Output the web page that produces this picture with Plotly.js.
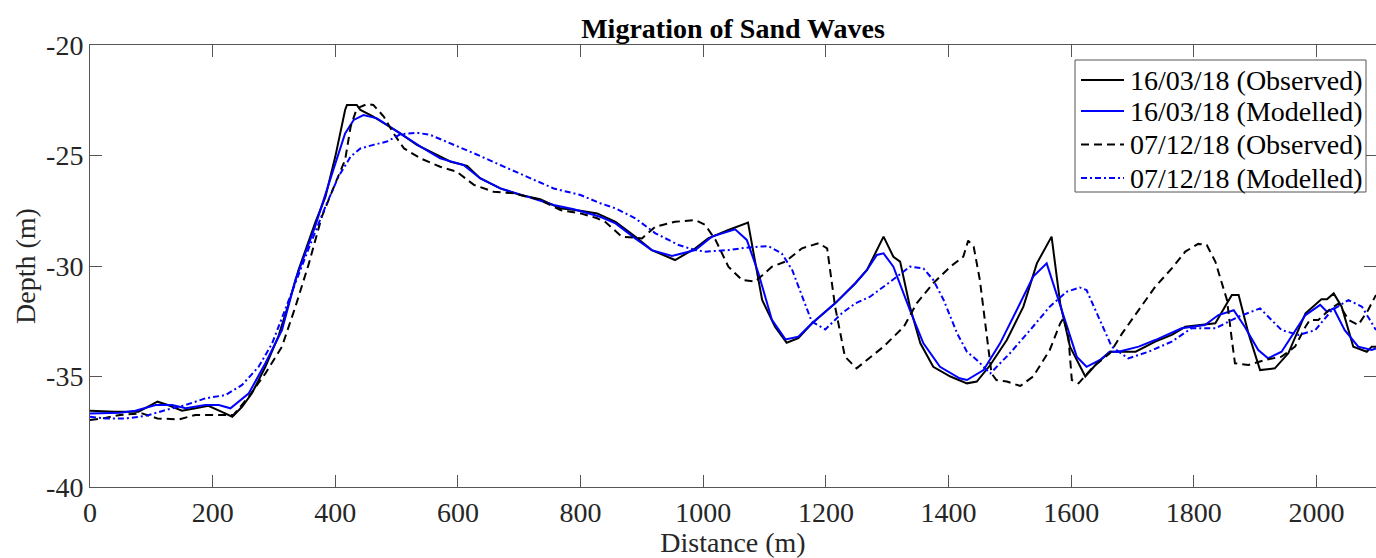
<!DOCTYPE html>
<html>
<head>
<meta charset="utf-8">
<script src="https://cdn.plot.ly/plotly-3.0.1.min.js"></script>
<style>html,body{margin:0;padding:0;background:#fff;}#chart{width:1376px;height:558px;}</style>
</head>
<body>
<div id="chart"></div>
<script>
// 16/03/18 Observed
const obs1X = [0,41,79,110,128,150,172,193,215,232,248,264,286,307,324,340,367,384,400,416,419,435,441,462,484,506,533,560,588,615,636,669,702,734,767,800,827,857,889,916,954,987,1008,1041,1073,1096,1117,1136,1155,1177,1215,1248,1267,1294,1310,1321,1337,1354,1375,1403,1430,1446,1468,1495,1522,1544,1568,1582,1598,1623,1642,1663,1677,1705,1737,1764,1786,1813,1835,1854,1862,1873,1889,1908,1932,1954,1982,2008,2017,2028,2041,2060,2082,2090,2097];
const obs1Y = [-36.55,-36.6,-36.6,-36.14,-36.3,-36.55,-36.44,-36.33,-36.6,-36.82,-36.37,-35.76,-34.56,-33.2,-31.7,-30.18,-28.06,-26.86,-25.05,-22.94,-22.71,-22.71,-22.94,-23.24,-23.62,-24.0,-24.52,-24.9,-25.28,-25.47,-26.03,-26.49,-26.79,-26.98,-27.39,-27.5,-27.62,-28.0,-28.67,-29.28,-29.73,-29.2,-28.75,-28.37,-28.04,-31.54,-32.75,-33.47,-33.27,-32.6,-31.69,-30.78,-30.18,-28.67,-29.58,-29.8,-31.84,-33.5,-34.56,-35.0,-35.31,-35.23,-34.48,-33.35,-31.84,-29.88,-28.67,-31.69,-33.65,-35.0,-34.4,-33.88,-33.88,-33.88,-33.42,-33.12,-32.75,-32.67,-32.59,-31.69,-31.31,-31.31,-33.05,-34.71,-34.63,-33.95,-32.14,-31.51,-31.51,-31.24,-31.84,-33.65,-33.88,-33.65,-33.65];

// 16/03/18 Modelled
const mod1X = [0,49,74,107,134,156,188,210,229,259,286,313,335,367,395,416,430,446,468,506,539,571,609,636,669,713,756,789,832,857,889,916,949,987,1014,1052,1071,1090,1112,1134,1155,1177,1215,1248,1267,1283,1294,1310,1337,1359,1386,1418,1430,1457,1484,1511,1538,1560,1574,1593,1609,1625,1647,1663,1677,1710,1737,1780,1818,1840,1865,1883,1905,1921,1943,1982,2006,2017,2028,2046,2068,2090,2097];
const mod1Y = [-36.67,-36.64,-36.55,-36.29,-36.29,-36.44,-36.29,-36.29,-36.44,-35.76,-34.4,-32.9,-30.63,-28.22,-25.8,-24.0,-23.39,-23.17,-23.32,-24.0,-24.6,-25.13,-25.43,-26.03,-26.49,-26.86,-27.24,-27.43,-27.77,-28.07,-28.75,-29.28,-29.55,-29.28,-28.67,-28.34,-28.82,-30.33,-32.44,-33.32,-33.2,-32.6,-31.69,-30.78,-30.18,-29.5,-29.43,-30.03,-32.0,-33.5,-34.56,-35.08,-35.16,-34.71,-33.5,-32.0,-30.48,-29.88,-31.09,-32.75,-34.1,-34.56,-34.25,-33.88,-33.88,-33.65,-33.35,-32.82,-32.67,-32.22,-32.0,-32.75,-33.8,-34.18,-33.88,-32.22,-31.76,-32.07,-31.92,-32.9,-33.65,-33.8,-33.73];

// 07/12/18 Observed
const obs2X = [0,20,49,85,110,145,172,210,234,259,286,313,335,357,378,400,416,425,435,452,462,479,495,512,539,571,598,626,658,691,734,767,800,827,840,867,900,922,954,987,1003,1020,1041,1063,1085,1112,1134,1161,1188,1202,1215,1231,1250,1294,1327,1348,1375,1403,1424,1432,1441,1451,1462,1470,1478,1495,1517,1538,1565,1582,1587,1595,1601,1612,1636,1663,1683,1710,1737,1764,1786,1807,1821,1835,1854,1862,1867,1889,1916,1943,1965,1982,1989,2003,2020,2036,2052,2068,2084,2097];
const obs2Y = [-36.97,-36.9,-36.74,-36.67,-36.9,-36.94,-36.74,-36.74,-36.74,-35.91,-34.86,-33.65,-31.84,-29.88,-27.77,-26.26,-25.2,-23.7,-22.87,-22.67,-22.71,-23.24,-24.0,-24.68,-25.13,-25.51,-25.73,-26.33,-26.64,-26.71,-27.01,-27.47,-27.62,-27.84,-28.0,-28.67,-28.75,-28.22,-28.0,-27.92,-28.14,-28.82,-30.03,-30.63,-30.7,-30.03,-29.8,-29.2,-28.97,-29.2,-31.84,-34.1,-34.63,-33.65,-32.75,-31.69,-30.78,-30.03,-29.58,-28.85,-29.13,-30.63,-33.05,-34.86,-35.16,-35.23,-35.43,-35.0,-33.8,-32.6,-32.37,-33.05,-35.16,-35.31,-34.56,-33.95,-33.05,-32.0,-30.94,-30.11,-29.35,-29.0,-29.05,-29.8,-31.54,-33.35,-34.4,-34.48,-34.25,-34.1,-33.65,-32.75,-32.44,-32.44,-32.0,-31.69,-32.44,-32.67,-32.0,-31.31];

// 07/12/18 Modelled
const mod2X = [0,25,58,90,123,156,188,221,248,275,297,318,340,362,384,405,425,441,462,484,506,533,555,588,626,669,713,756,800,832,857,889,922,960,987,1003,1041,1073,1106,1128,1145,1161,1177,1199,1226,1248,1272,1305,1337,1359,1375,1392,1414,1430,1446,1468,1500,1533,1565,1593,1614,1625,1642,1655,1666,1693,1726,1764,1796,1835,1873,1908,1943,1971,1998,2025,2052,2074,2097];
const mod2Y = [-36.82,-36.9,-36.9,-36.79,-36.52,-36.29,-35.99,-35.84,-35.38,-34.56,-33.5,-31.99,-30.33,-28.82,-27.31,-25.96,-25.05,-24.68,-24.52,-24.37,-24.04,-23.97,-24.07,-24.45,-24.9,-25.43,-25.96,-26.49,-26.79,-27.16,-27.39,-27.84,-28.52,-29.05,-29.28,-29.35,-29.28,-29.16,-29.1,-29.43,-30.18,-31.39,-32.52,-32.87,-32.14,-31.69,-31.39,-30.71,-30.03,-30.11,-30.63,-31.54,-33.05,-33.88,-34.25,-34.86,-33.95,-32.9,-31.84,-31.16,-30.97,-31.09,-32.14,-32.9,-33.65,-34.18,-33.88,-33.42,-32.82,-32.82,-32.29,-31.92,-32.9,-33.12,-32.9,-32.0,-31.54,-31.84,-32.9];

const seriesNames = ['16/03/18 (Observed)','16/03/18 (Modelled)','07/12/18 (Observed)','07/12/18 (Modelled)'];
const xTickVals = [0,200,400,600,800,1000,1200,1400,1600,1800,2000];
const xTickText = ['0','200','400','600','800','1000','1200','1400','1600','1800','2000'];
const yTickVals = [-40,-35,-30,-25,-20];
const yTickText = ['-40','-35','-30','-25','-20'];
const titleText = 'Migration of Sand Waves';
const xTitle = 'Distance (m)';
const yTitle = 'Depth (m)';

const FONT = 'Liberation Serif, Times New Roman, serif';
const AX = '#555555';
const styles = [
  {color: '#000000', width: 2, dash: 'solid'},
  {color: '#0000ff', width: 2, dash: 'solid'},
  {color: '#000000', width: 2, dash: '8px,5px'},
  {color: '#0000ff', width: 2, dash: '6px,3px,2px,3px'}
];
const xs = [obs1X, mod1X, obs2X, mod2X];
const ys = [obs1Y, mod1Y, obs2Y, mod2Y];

const traces = seriesNames.map((n, i) => ({
  x: xs[i], y: ys[i], name: n, mode: 'lines', line: styles[i], showlegend: false
}));

// manual legend (MATLAB-like box), positioned in paper coordinates
const L = 90, R = 1376, T = 45, B = 487;
const px = v => (v - L) / (R - L);
const py = v => (B - v) / (B - T);
const rowY = [80, 111, 144.5, 178];
const shapes = [{
  type: 'rect', xref: 'paper', yref: 'paper',
  x0: px(1075), x1: px(1366), y0: py(192), y1: py(60),
  line: {color: AX, width: 1}, fillcolor: '#ffffff', layer: 'above'
}];
const annotations = [];
seriesNames.forEach((n, i) => {
  shapes.push({type: 'line', xref: 'paper', yref: 'paper',
    x0: px(1081), x1: px(1124), y0: py(rowY[i]), y1: py(rowY[i]),
    line: styles[i], layer: 'above'});
  annotations.push({xref: 'paper', yref: 'paper', x: px(1128), y: py(rowY[i]),
    xanchor: 'left', yanchor: 'middle', showarrow: false, text: n,
    font: {family: FONT, size: 28, color: '#000000'}});
});

const axisCommon = {
  showgrid: false, zeroline: false, showline: true, mirror: 'ticks',
  linecolor: AX, linewidth: 1, ticks: 'inside', ticklen: 12, tickwidth: 1, tickcolor: AX,
  tickfont: {family: FONT, size: 28, color: '#262626'}, tickmode: 'array'
};

const layout = {
  width: 1376, height: 558,
  margin: {l: 90, r: 0, t: 45, b: 71, pad: 0},
  paper_bgcolor: '#ffffff', plot_bgcolor: '#ffffff',
  font: {family: FONT, color: '#000000'},
  title: {text: '<b>' + titleText + '</b>', font: {family: FONT, size: 28, color: '#000000'},
          x: 0.5, xref: 'paper', y: 1 - 28/558, yanchor: 'middle'},
  xaxis: Object.assign({}, axisCommon, {
    range: [0, 2097], tickvals: xTickVals, ticktext: xTickText,
    title: {text: xTitle, font: {family: FONT, size: 28, color: '#262626'}, standoff: 6}
  }),
  yaxis: Object.assign({}, axisCommon, {
    range: [-40, -20], tickvals: yTickVals, ticktext: yTickText,
    title: {text: yTitle, font: {family: FONT, size: 28, color: '#262626'}, standoff: 2}
  }),
  showlegend: false,
  shapes: shapes,
  annotations: annotations
};

Plotly.newPlot('chart', traces, layout, {displayModeBar: false, staticPlot: true});
</script>
</body>
</html>
